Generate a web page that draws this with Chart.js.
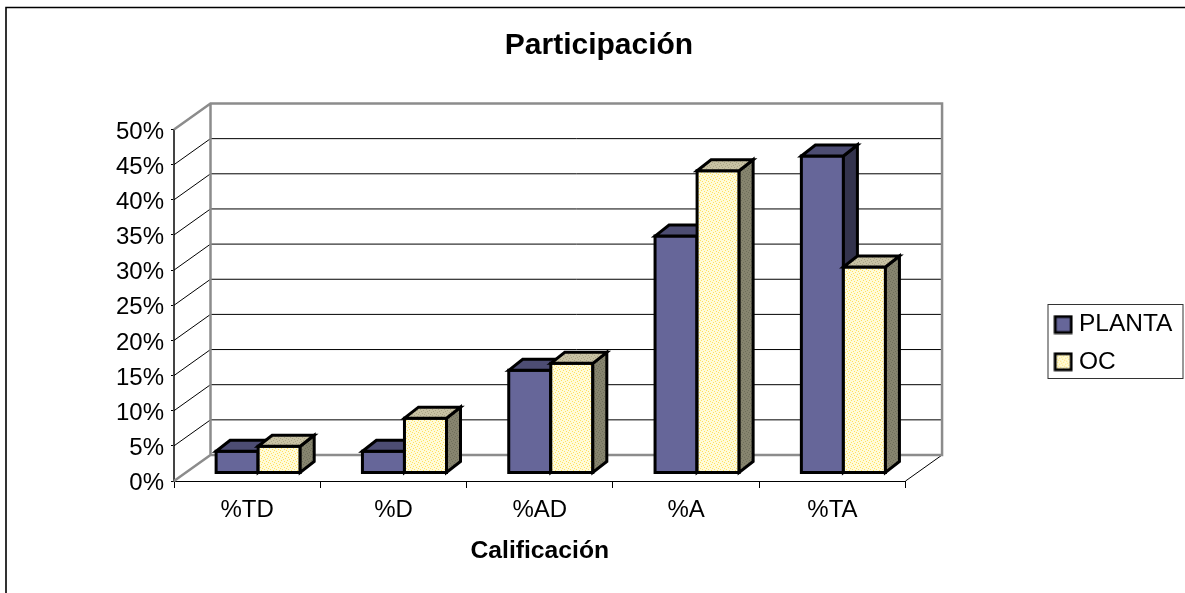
<!DOCTYPE html>
<html>
<head>
<meta charset="utf-8">
<title>Participación</title>
<script src="https://cdn.jsdelivr.net/npm/chart.js@4"></script>
<style>
  html, body { margin: 0; padding: 0; background: #fff; overflow: hidden; }
  #wrap { width: 1185px; height: 593px; }
</style>
</head>
<body>
<div id="wrap"><canvas id="chart" width="1185" height="593"></canvas></div>
<script>
const categories = ["%TD", "%D", "%AD", "%A", "%TA"];
const plantaValues = [3.1, 3.1, 14.6, 33.7, 45.1];
const ocValues = [3.8, 7.8, 15.6, 43.0, 29.3];
const seriesNames = ["PLANTA", "OC"];

const FONT = "'Liberation Sans', Arial, sans-serif";
const WALL_DX = 36.5, WALL_DY = -26;   // how far the back wall sits behind the axes
const BAR_DX = 11, BAR_DY = -8;        // where the bars stand on the floor
const DEPTH_DX = 14, DEPTH_DY = -11;   // bar thickness

// small speckled tile used to fill the pale series
function dither(base, dot) {
  const c = document.createElement("canvas");
  c.width = c.height = 6;
  const g = c.getContext("2d");
  g.fillStyle = base;
  g.fillRect(0, 0, 6, 6);
  g.fillStyle = dot;
  [[0, 0], [3, 1], [1, 3], [4, 4], [2, 5], [5, 2]].forEach(([x, y]) => g.fillRect(x, y, 1, 1));
  return g.createPattern(c, "repeat");
}

const faces = [
  { front: "#666699", top: "#4d4d73", side: "#33334d" },
  { front: dither("#fffbd8", "#ffe060"), top: dither("#c8c2a4", "#a8a284"), side: dither("#86846e", "#6e6e5a") },
];

// legend swatch with its black outline
function swatch(fill) {
  const c = document.createElement("canvas");
  c.width = c.height = 20;
  const g = c.getContext("2d");
  g.fillStyle = fill;
  g.strokeStyle = "#000";
  g.lineWidth = 2.8;
  g.fillRect(2, 2, 16, 16);
  g.strokeRect(2, 2, 16, 16);
  return c;
}

// walls, floor and gridlines behind the bars
const wallsPlugin = {
  id: "walls",
  beforeDatasetsDraw(chart) {
    const { ctx, chartArea: a, scales: { y } } = chart;
    const back = (x) => x + WALL_DX;
    ctx.save();
    ctx.strokeStyle = "#000";
    ctx.lineWidth = 1;
    y.ticks.forEach((t) => {
      const py = y.getPixelForValue(t.value);
      if (t.value === 0 || t.value === 50) return;
      ctx.beginPath();
      ctx.moveTo(a.left, py);
      ctx.lineTo(back(a.left), py + WALL_DY);
      ctx.lineTo(back(a.right), py + WALL_DY);
      ctx.stroke();
    });
    ctx.beginPath();
    ctx.moveTo(a.right, a.bottom);
    ctx.lineTo(back(a.right), a.bottom + WALL_DY);
    ctx.stroke();

    ctx.strokeStyle = "#8c8c8c";
    ctx.lineWidth = 2.5;
    ctx.beginPath();
    ctx.moveTo(a.left, a.bottom);
    ctx.lineTo(back(a.left), a.bottom + WALL_DY);
    ctx.lineTo(back(a.right), a.bottom + WALL_DY);
    ctx.lineTo(back(a.right), a.top + WALL_DY);
    ctx.lineTo(back(a.left), a.top + WALL_DY);
    ctx.lineTo(a.left, a.top);
    ctx.moveTo(back(a.left), a.top + WALL_DY);
    ctx.lineTo(back(a.left), a.bottom + WALL_DY);
    ctx.stroke();
    ctx.restore();

    // bars go first series first so the later one overlaps its neighbour
    ctx.save();
    ctx.translate(BAR_DX, BAR_DY);
    ctx.lineJoin = "miter";
    ctx.lineWidth = 3;
    ctx.strokeStyle = "#000";
    [0, 1].forEach((d) => {
      chart.getDatasetMeta(d).data.forEach((bar) => {
        const { x, y: top, base, width } = bar.getProps(["x", "y", "base", "width"], true);
        const l = x - width / 2, r = x + width / 2;
        bar.draw(ctx);
        ctx.beginPath();
        ctx.rect(l, top, width, base - top);
        ctx.stroke();
        ctx.fillStyle = faces[d].side;
        ctx.beginPath();
        ctx.moveTo(r, top);
        ctx.lineTo(r + DEPTH_DX, top + DEPTH_DY);
        ctx.lineTo(r + DEPTH_DX, base + DEPTH_DY);
        ctx.lineTo(r, base);
        ctx.closePath();
        ctx.fill();
        ctx.stroke();
        ctx.fillStyle = faces[d].top;
        ctx.beginPath();
        ctx.moveTo(l, top);
        ctx.lineTo(l + DEPTH_DX, top + DEPTH_DY);
        ctx.lineTo(r + DEPTH_DX, top + DEPTH_DY);
        ctx.lineTo(r, top);
        ctx.closePath();
        ctx.fill();
        ctx.stroke();
      });
    });
    ctx.restore();
    return false;
  },
  afterLayout(chart) {
    // legend and title sit off-centre on the sheet
    const lg = chart.legend;
    lg.left = 1047; lg.right = 1183; lg.top = 299.6; lg.bottom = 440;
    chart.titleBlock.left += 78.5;
    chart.titleBlock.right += 78.5;
  },
  afterDraw(chart) {
    const { ctx } = chart;
    ctx.save();
    ctx.strokeStyle = "#333";
    ctx.lineWidth = 1;
    ctx.strokeRect(1048, 304.5, 135, 74);
    // sheet frame, only top and left fall inside the page
    ctx.strokeStyle = "#000";
    ctx.lineWidth = 1.6;
    ctx.beginPath();
    ctx.moveTo(6, 593);
    ctx.lineTo(6, 7.5);
    ctx.lineTo(1185, 7.5);
    ctx.stroke();
    ctx.restore();
  },
};

new Chart(document.getElementById("chart"), {
  type: "bar",
  data: {
    labels: categories,
    datasets: [
      { label: seriesNames[0], data: plantaValues, backgroundColor: faces[0].front },
      { label: seriesNames[1], data: ocValues, backgroundColor: faces[1].front },
    ],
  },
  options: {
    responsive: false,
    animation: false,
    categoryPercentage: 0.5746,
    barPercentage: 1,
    borderWidth: 0,
    layout: { padding: { right: 144 } },
    plugins: {
      title: {
        display: true,
        text: "Participación",
        color: "#000",
        font: { family: FONT, size: 30, weight: "bold" },
        padding: { top: 28, bottom: 65.5 },
      },
      legend: {
        position: "right",
        align: "start",
        labels: {
          color: "#000",
          font: { family: FONT, size: 24.5 },
          usePointStyle: true,
          pointStyleWidth: 7,
          padding: 12.7,
          generateLabels: (chart) =>
            chart.data.datasets.map((ds, i) => ({
              text: ds.label,
              datasetIndex: i,
              pointStyle: swatch(faces[i].front),
              fontColor: "#000",
            })),
        },
      },
      tooltip: { enabled: false },
    },
    scales: {
      x: {
        afterFit: (s) => { s.height = 112; },
        grid: { drawOnChartArea: false, color: "#000", tickLength: 7, lineWidth: 1 },
        border: { color: "#000", width: 1 },
        ticks: { color: "#000", padding: 8, maxRotation: 0, font: { family: FONT, size: 24 } },
        title: {
          display: true,
          text: "Calificación",
          color: "#000",
          font: { family: FONT, size: 24.7, weight: "bold" },
          padding: { top: 0, bottom: 27 },
        },
      },
      y: {
        min: 0,
        max: 50,
        afterFit: (s) => { s.width = 174; },
        grid: { drawOnChartArea: false, color: "#000", tickLength: 3, lineWidth: 1 },
        border: { color: "#444", width: 2 },
        ticks: {
          stepSize: 5,
          color: "#000",
          padding: 7,
          labelOffset: 2.5,
          font: { family: FONT, size: 24 },
          callback: (v) => v + "%",
        },
      },
    },
  },
  plugins: [wallsPlugin],
});
</script>
</body>
</html>
